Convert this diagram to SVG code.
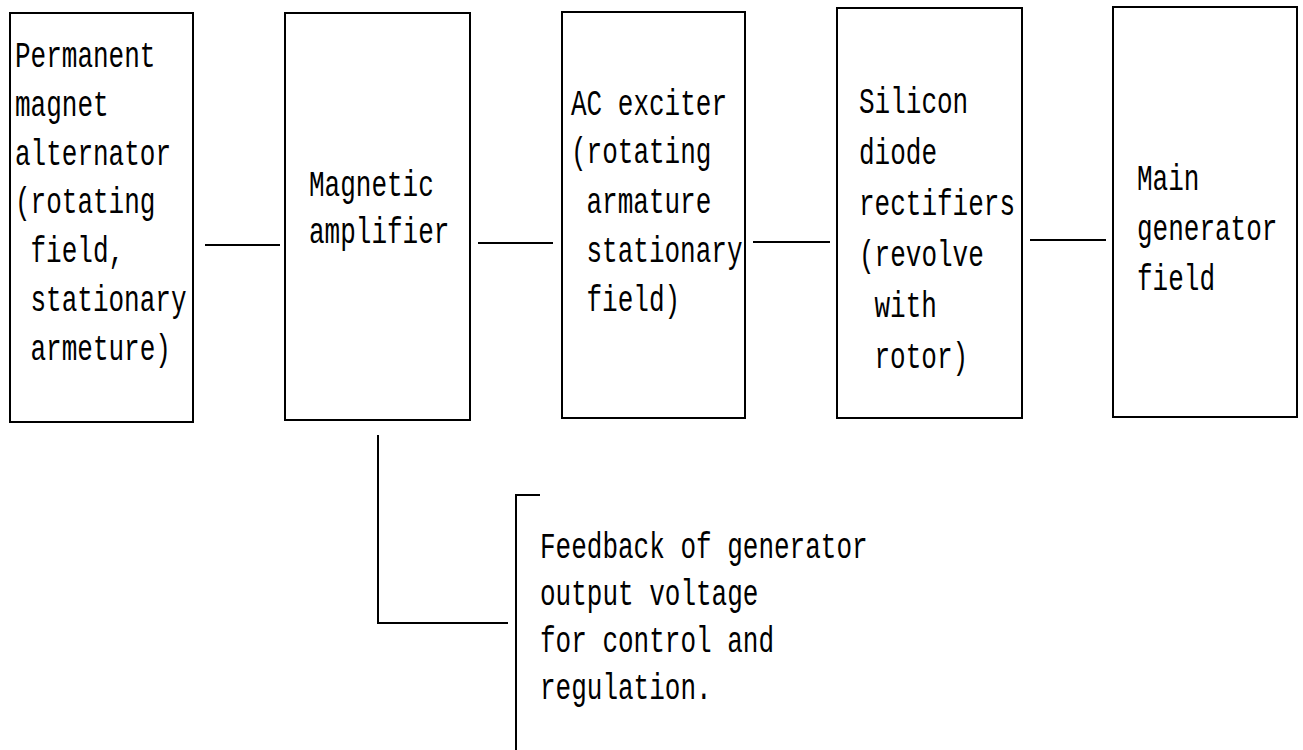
<svg xmlns="http://www.w3.org/2000/svg" width="1303" height="750" viewBox="0 0 1303 750">
<style>
  .box { fill: #ffffff; stroke: #000000; stroke-width: 2; }
  .ln { fill: none; stroke: #000000; stroke-width: 2; }
  text { font-family: "Liberation Mono", "DejaVu Sans Mono", monospace; font-size: 26px; fill: #000000; }
</style>
<rect x="0" y="0" width="1303" height="750" fill="#ffffff"/>
<g id="connectors">
  <line class="ln" x1="205" y1="245" x2="280" y2="245"/>
  <line class="ln" x1="478" y1="243" x2="553" y2="243"/>
  <line class="ln" x1="753" y1="242" x2="830" y2="242"/>
  <line class="ln" x1="1030" y1="240" x2="1106" y2="240"/>
  <polyline class="ln" points="378,435 378,623 508,623"/>
</g>
<g id="pma">
  <rect class="box" x="10" y="13" width="183" height="409"/>
  <text x="15" transform="translate(0,67) scale(1,1.4)">Permanent</text>
  <text x="15" transform="translate(0,116) scale(1,1.4)">magnet</text>
  <text x="15" transform="translate(0,165) scale(1,1.4)">alternator</text>
  <text x="15" transform="translate(0,213) scale(1,1.4)">(rotating</text>
  <text x="30.5" transform="translate(0,262) scale(1,1.4)">field,</text>
  <text x="30.5" transform="translate(0,311) scale(1,1.4)">stationary</text>
  <text x="30.5" transform="translate(0,360) scale(1,1.4)">armeture)</text>
</g>
<g id="magamp">
  <rect class="box" x="285" y="13" width="185" height="407"/>
  <text x="309" transform="translate(0,196) scale(1,1.4)">Magnetic</text>
  <text x="309" transform="translate(0,243) scale(1,1.4)">amplifier</text>
</g>
<g id="exciter">
  <rect class="box" x="562" y="12" width="183" height="406"/>
  <text x="571" transform="translate(0,115) scale(1,1.4)">AC exciter</text>
  <text x="571" transform="translate(0,163) scale(1,1.4)">(rotating</text>
  <text x="586.5" transform="translate(0,213) scale(1,1.4)">armature</text>
  <text x="586.5" transform="translate(0,262) scale(1,1.4)">stationary</text>
  <text x="586.5" transform="translate(0,311) scale(1,1.4)">field)</text>
</g>
<g id="rectifiers">
  <rect class="box" x="837" y="8" width="185" height="410"/>
  <text x="859" transform="translate(0,113) scale(1,1.4)">Silicon</text>
  <text x="859" transform="translate(0,164) scale(1,1.4)">diode</text>
  <text x="859" transform="translate(0,215) scale(1,1.4)">rectifiers</text>
  <text x="859" transform="translate(0,266) scale(1,1.4)">(revolve</text>
  <text x="874.5" transform="translate(0,317) scale(1,1.4)">with</text>
  <text x="874.5" transform="translate(0,368) scale(1,1.4)">rotor)</text>
</g>
<g id="mainfield">
  <rect class="box" x="1113" y="7" width="184" height="410"/>
  <text x="1137" transform="translate(0,190) scale(1,1.4)">Main</text>
  <text x="1137" transform="translate(0,240) scale(1,1.4)">generator</text>
  <text x="1137" transform="translate(0,290) scale(1,1.4)">field</text>
</g>
<g id="feedback">
  <polyline class="ln" points="540,495 516,495 516,750"/>
  <text x="540" transform="translate(0,558) scale(1,1.4)">Feedback of generator</text>
  <text x="540" transform="translate(0,605) scale(1,1.4)">output voltage</text>
  <text x="540" transform="translate(0,652) scale(1,1.4)">for control and</text>
  <text x="540" transform="translate(0,699) scale(1,1.4)">regulation.</text>
</g>
</svg>
